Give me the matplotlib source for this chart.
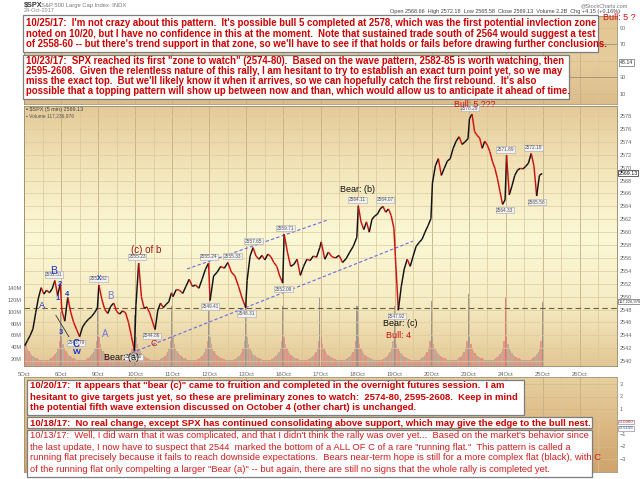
import numpy as np
import matplotlib.pyplot as plt
from matplotlib.collections import LineCollection
from matplotlib.colors import LinearSegmentedColormap
from matplotlib.patches import Rectangle

plt.rcParams['font.family'] = ['Liberation Sans', 'DejaVu Sans']

W, H = 640, 479

day_labels = ['5Oct', '6Oct', '9Oct', '10Oct', '11Oct', '12Oct', '13Oct', '16Oct',
              '17Oct', '18Oct', '19Oct', '20Oct', '23Oct', '24Oct', '25Oct', '26Oct']

s_5oct = [2542.4, 2543.2, 2544.0, 2545.0, 2547.5, 2549.8, 2551.4, 2550.4, 2551.0, 2550.6, 2551.2, 2552.5, 2550.2, 2552.0]
s_6oct = [2547.9, 2546.2, 2549.9, 2547.6, 2546.0, 2544.9, 2543.8, 2545.3, 2546.0, 2546.5, 2546.9, 2547.5, 2548.2]
s_9oct = [2551.8, 2549.6, 2548.0, 2547.4, 2548.5, 2549.0, 2547.7, 2547.3, 2547.8, 2547.5, 2546.0, 2543.8, 2541.6]
s_10oct = [2548.6, 2555.2, 2550.0, 2548.2, 2548.4, 2547.5, 2546.2, 2544.9, 2547.9, 2549.0, 2548.3, 2548.8, 2549.2, 2550.6]
s_11oct = [2550.0, 2551.1, 2551.0, 2550.5, 2551.6, 2552.7, 2551.6, 2551.8, 2551.3, 2552.7, 2554.2, 2555.2]
s_12oct = [2549.4, 2553.2, 2553.8, 2554.7, 2554.4, 2555.3, 2553.8, 2553.2, 2551.6, 2549.8, 2548.3]
s_13oct = [2552.5, 2556.3, 2557.6, 2556.3, 2555.8, 2556.4, 2555.7, 2556.6, 2556.2, 2555.3, 2554.7, 2553.2, 2552.1]
s_16oct = [2559.7, 2556.9, 2554.7, 2555.0, 2555.8, 2553.3, 2554.7, 2555.8, 2555.6, 2556.3, 2556.1, 2557.6]
s_17oct = [2558.5, 2555.8, 2556.9, 2556.2, 2556.0, 2556.4, 2555.3, 2555.9, 2556.9, 2557.8, 2559.2]
s_18oct = [2564.1, 2561.6, 2560.4, 2561.6, 2560.0, 2562.0, 2562.5, 2562.8, 2563.6, 2564.0, 2563.1, 2563.6, 2562.6, 2560.6]
s_19oct = [2556.2, 2547.9, 2551.6, 2554.3, 2555.8, 2554.7, 2556.3, 2557.8, 2558.4, 2558.9, 2560.0, 2561.0, 2562.1]
s_20oct = [2567.6, 2570.3, 2571.4, 2568.8, 2569.9, 2571.0, 2571.4, 2573.0, 2574.1, 2574.8, 2573.6, 2574.0, 2574.5]
s_23oct = [2577.6, 2578.3, 2575.6, 2575.0, 2574.6, 2573.0, 2574.1, 2573.5, 2572.5, 2571.0, 2569.9, 2568.3, 2566.3, 2564.3, 2565.0]
s_24oct = [2571.9, 2565.8, 2567.2, 2568.8, 2569.6, 2569.9, 2569.8, 2570.2, 2570.7, 2572.2, 2570.3, 2565.6, 2568.8, 2569.1]
sessions = [s_5oct, s_6oct, s_9oct, s_10oct, s_11oct, s_12oct, s_13oct, s_16oct,
            s_17oct, s_18oct, s_19oct, s_20oct, s_23oct, s_24oct]

# typical intraday volume per 15 min slot (millions per 5 min bar) and closing bar spikes
vol_profile = [58, 45, 38, 33, 30, 27, 25, 23, 22, 21, 20, 19, 18, 18, 18, 18, 19, 19, 20, 21, 23, 25, 28, 32, 38, 50]
vol_close = [100, 118, 95, 110, 105, 110, 110, 125, 110, 110, 118, 130, 126, 116]
vol_avg = 107

price_ticks = list(range(2540, 2579, 2))
vol_ticks = [20, 40, 60, 80, 100, 120, 140]

# pivot value tags: (day position, value, 1 = above / -1 = below)
pivots = [(0.81, 2552.51, 1), (1.40, 2543.79, -1), (2.00, 2551.82, 1), (2.95, 2541.60, -1),
          (3.05, 2555.23, 1), (3.45, 2544.86, -1), (4.99, 2555.24, 1), (5.02, 2549.41, -1),
          (5.62, 2555.33, 1), (6.00, 2548.31, -1), (6.20, 2557.65, 1), (7.00, 2552.09, -1),
          (7.05, 2559.71, 1), (9.00, 2564.11, 1), (9.75, 2564.07, 1), (10.06, 2547.92, -1),
          (12.03, 2578.29, 1), (13.00, 2571.89, 1), (12.97, 2564.33, -1), (13.75, 2572.18, 1),
          (13.84, 2565.58, -1)]

upper_channel = ([4.40, 8.20], [2554.3, 2561.9])
lower_channel = ([2.91, 10.49], [2541.3, 2558.6])
wave_line = ([0.86, 1.21], [2547.1, 2543.8])


def frect(x0, y0, x1, y1):
    return [x0 / W, 1 - y1 / H, (x1 - x0) / W, (y1 - y0) / H]


def grad(axx, colors):
    cmap = LinearSegmentedColormap.from_list('g', colors)
    axx.imshow(np.linspace(0, 1, 256).reshape(-1, 1), aspect='auto', cmap=cmap,
               extent=[0, 1, 0, 1], transform=axx.transAxes, zorder=0)


def style(axx):
    for sp in axx.spines.values():
        sp.set_color('#a39273')
        sp.set_linewidth(0.6)
    axx.tick_params(length=0, labelsize=4, labelcolor='#666666', pad=2)


def vgrid(axx):
    for d in range(16):
        axx.axvline(d, color='#c5ae84', lw=0.6, zorder=1)
        axx.axvline(d + 0.5, color='#d9c69c', lw=0.5, zorder=1)


fig = plt.figure(figsize=(6.4, 4.79), dpi=100)

# ---- top indicator panel
ax_r = fig.add_axes(frect(24, 16, 617, 104))
grad(ax_r, ['#e2c592', '#e6cd9d', '#dcbd8a'])
vgrid(ax_r)
for lv in [10, 30, 50, 70, 90]:
    ax_r.axhline(lv, color='#d2bb8e', lw=0.5, zorder=1)
ax_r.axhline(30, color='#a6977c', lw=0.7, zorder=1)
ax_r.axhline(70, color='#a6977c', lw=0.7, zorder=1)
ax_r.set_xlim(0, 16)
ax_r.set_ylim(-2.4, 104.2)
ax_r.yaxis.tick_right()
ax_r.set_yticks([90, 70, 30, 10])
ax_r.set_xticks([])
style(ax_r)
ax_r.annotate('48.14', xy=(1.0, 48.1), xycoords=('axes fraction', 'data'), xytext=(2, 0),
              textcoords='offset points', ha='left', va='center', fontsize=3.8, color='#333',
              bbox=dict(boxstyle='square,pad=0.15', fc='white', ec='#444', lw=0.4), annotation_clip=False)

# ---- price + volume panel
ax_v = fig.add_axes(frect(24, 106, 617, 366))
grad(ax_v, ['#e5ca98', '#f3e6bb', '#fbf8d6', '#f6edc4', '#e3c794'])
vgrid(ax_v)

for i, s in enumerate(sessions):
    n = len(s)
    for b, v in enumerate(vol_profile):
        t = (b + 0.5) / len(vol_profile)
        k = min(max(int((t - 0.02) / 0.96 * (n - 1)), 0), n - 2)
        c = '#e07272' if (s[k + 1] < s[k]) != (b % 2 == 1) else '#a29898'
        ax_v.bar(i + t * 0.97, v, width=0.97 / len(vol_profile), bottom=0,
                 color=c, alpha=0.6, lw=0, zorder=2)
    cc = '#e06a6a' if i == 12 else '#8c8c8c'
    ax_v.bar(i + 0.985, vol_close[i], width=0.028, color=cc, alpha=0.85, lw=0, zorder=2)
ax_v.axhline(vol_avg, color='#6e5f48', ls=(0, (5, 3)), lw=0.8, zorder=3)
ax_v.set_xlim(0, 16)
ax_v.set_ylim(8, 450)
ax_v.set_yticks(vol_ticks)
ax_v.set_yticklabels([f'{v}M' for v in vol_ticks])
ax_v.set_xticks(range(16))
ax_v.set_xticklabels(day_labels)
style(ax_v)
ax_v.tick_params(axis='x', labelsize=4.2, pad=4)
ax_v.tick_params(axis='y', pad=1.5)
ax_v.annotate('117,226,976', xy=(1.0, 117.2), xycoords=('axes fraction', 'data'), xytext=(1, 0),
              textcoords='offset points', ha='left', va='center', fontsize=2.9, color='#333',
              bbox=dict(boxstyle='square,pad=0.1', fc='white', ec='#444', lw=0.4), annotation_clip=False)

ax = ax_v.twinx()
for p in price_ticks:
    ax.axhline(p, color='#dccb9f', lw=0.5, zorder=1)

xs, ys = [], []
for i, s in enumerate(sessions):
    n = len(s)
    for k, v in enumerate(s):
        xs.append(i + 0.02 + 0.96 * k / (n - 1))
        ys.append(v)
pts = np.column_stack([xs, ys])
segs = np.stack([pts[:-1], pts[1:]], axis=1)
cols = ['#111111' if b >= a else '#d01010' for a, b in zip(ys[:-1], ys[1:])]
ax.add_collection(LineCollection(segs, colors=cols, linewidths=1.05, zorder=5))

ax.plot(*upper_channel, color='#6a6aee', lw=0.8, ls=(0, (3, 2)), zorder=4)
ax.plot(*lower_channel, color='#6a6aee', lw=0.8, ls=(0, (3, 2)), zorder=4)
ax.plot(*wave_line, color='#333333', lw=0.6, zorder=4)

for d, v, pos in pivots:
    ax.annotate(f'{v:.2f}', xy=(d, v), xytext=(0, 2.5 * pos), textcoords='offset points',
                ha='center', va='bottom' if pos > 0 else 'top', fontsize=3.4, color='#555',
                bbox=dict(boxstyle='square,pad=0.12', fc='#f1f1f1', ec='#a8a8a8', lw=0.4), zorder=6)

ax.set_xlim(0, 16)
ax.set_ylim(2539.25, 2579.56)
ax.set_yticks(price_ticks)
style(ax)
ax.annotate('2569.13', xy=(1.0, 2569.13), xycoords=('axes fraction', 'data'), xytext=(1, 0),
            textcoords='offset points', ha='left', va='center', fontsize=3.8, color='#111',
            bbox=dict(boxstyle='square,pad=0.12', fc='white', ec='#222', lw=0.5), annotation_clip=False)

# ---- lower indicator panel
ax_m = fig.add_axes(frect(24, 377, 617, 472))
grad(ax_m, ['#e7cf9f', '#ddb984', '#cfa26b'])
vgrid(ax_m)
for lv in [-3, -2, -1, 0, 1, 2, 3]:
    ax_m.axhline(lv, color='#d4b98a', lw=0.5, zorder=1)
ax_m.set_xlim(0, 16)
ax_m.set_ylim(-4.04, 3.56)
ax_m.yaxis.tick_right()
ax_m.set_yticks([3, 2, 1, -1, -2, -3])
ax_m.set_xticks([])
style(ax_m)
ax_m.annotate('-0.0360', xy=(1.0, -0.04), xycoords=('axes fraction', 'data'), xytext=(1, 0),
              textcoords='offset points', ha='left', va='center', fontsize=3.2, color='#b02020',
              bbox=dict(boxstyle='square,pad=0.1', fc='white', ec='#777', lw=0.4), annotation_clip=False)
ax_m.annotate('-0.5155', xy=(1.0, -0.55), xycoords=('axes fraction', 'data'), xytext=(1, 0),
              textcoords='offset points', ha='left', va='center', fontsize=3.2, color='#2040a0',
              bbox=dict(boxstyle='square,pad=0.1', fc='white', ec='#777', lw=0.4), annotation_clip=False)


def ftext(px, py, s, **kw):
    kw.setdefault('ha', 'center')
    kw.setdefault('va', 'center')
    return fig.text(px / W, 1 - py / H, s, **kw)


# header
ftext(24, 5, '$SPX', ha='left', fontsize=5.2, fontweight='bold', color='#333')
ftext(41, 5, 'S&P 500 Large Cap Index  INDX', ha='left', fontsize=4.2, color='#777')
ftext(24, 11, '24-Oct-2017', ha='left', fontsize=4.0, color='#888')
ftext(628, 6, '@StockCharts.com', ha='right', fontsize=4.0, color='#777')
ftext(620, 12, 'Open 2568.66  High 2572.18  Low 2565.58  Close 2569.13  Volume 2.2B  Chg +4.15 (+0.16%)',
      ha='right', fontsize=4.0, color='#444')
ftext(26, 110, '\u25aa $SPX (5 min) 2569.13', ha='left', fontsize=4.0, color='#444')
ftext(26, 116, '\u25aa Volume 117,236,976', ha='left', fontsize=3.5, color='#555')

# wave labels
blue = '#1c35d6'
lblue = '#7474e2'
ftext(42, 306, 'A', fontsize=6.5, color=blue)
ftext(54, 271, 'B', fontsize=7.5, color=blue)
ftext(58, 299, '1', fontsize=5.5, color=blue, fontweight='bold')
ftext(60, 284, '2', fontsize=5.5, color=blue, fontweight='bold')
ftext(61, 333, '3', fontsize=5.5, color=blue, fontweight='bold')
ftext(67, 295, '4', fontsize=5.5, color=blue, fontweight='bold')
ftext(76, 344, 'C', fontsize=7, color=blue, fontweight='bold')
ftext(77, 352, 'W', fontsize=6, color=blue, fontweight='bold')
ftext(99, 278, 'x', fontsize=6.5, color=blue)
ftext(110, 296, 'B', fontsize=7, color=lblue)
ftext(105, 334, 'A', fontsize=7, color=lblue)
ftext(146, 250, '(c) of b', fontsize=7, color='#a51212')
ftext(122, 358, 'Bear: (a)', fontsize=6.5, color='#111')
ftext(154, 343, 'C', fontsize=6.5, color='#cc1111')
ftext(358, 189, 'Bear: (b)', fontsize=6.5, color='#111')
ftext(400, 324, 'Bear: (c)', fontsize=6.5, color='#111')
ftext(399, 336, 'Bull: 4', fontsize=6.5, color='#d01010')
ftext(475, 104.5, 'Bull: 5 ???', fontsize=6.3, color='#d01010')
ftext(603, 17, 'Bull: 5 ?', ha='left', fontsize=6.5, color='#d01010')

# comment boxes
renderer = fig.canvas.get_renderer()


def note(x0, y0, x1, y1, lines, ys, weight, fit_w, color='#d00000'):
    fig.add_artist(Rectangle((x0 / W, 1 - y1 / H), (x1 - x0) / W, (y1 - y0) / H,
                             transform=fig.transFigure, fc='white', ec='#7d7d7d', lw=0.9, zorder=10))
    ts = [ftext(x0 + 3, y, s, ha='left', fontsize=10, fontweight=weight, color=color, zorder=11)
          for s, y in zip(lines, ys)]
    w0 = ts[0].get_window_extent(renderer).width
    for t in ts:
        t.set_fontsize(10 * fit_w / w0)


note(23, 15, 598, 52,
     ["10/25/17:  I'm not crazy about this pattern.  It's possible bull 5 completed at 2578, which was the first potential invlection zone",
      "noted on 10/20, but I have no confidence in this at the moment.  Note that sustained trade south of 2564 would suggest a test",
      "of 2558-60 -- but there's trend support in that zone, so we'll have to see if that holds or fails before drawing further conclusions."],
     [23, 34, 44], 'bold', 569)
note(23, 55, 569, 99,
     ['10/23/17:  SPX reached its first "zone to watch" (2574-80).  Based on the wave pattern, 2582-85 is worth watching, then',
      '2595-2608.  Given the relentless nature of this rally, I am hesitant to try to establish an exact turn point yet, so we may',
      "miss the exact top.  But we'll likely know it when it arrives, so we can hopefully catch the first rebound.  It's also",
      'possible that a topping pattern will show up between now and than, which would allow us to anticipate it ahead of time.'],
     [61, 71, 81, 91], 'bold', 540)
note(27, 380, 524, 415,
     ['10/20/17:  It appears that "bear (c)" came to fruition and completed in the overnight futures session.  I am',
      'hesitant to give targets just yet, so these are preliminary zones to watch:  2574-80, 2595-2608.  Keep in mind',
      'the potential fifth wave extension discussed on October 4 (other chart) is unchanged.'],
     [386, 397, 408], 'bold', 471)
note(27, 417, 592, 428,
     ['10/18/17:  No real change, except SPX has continued consolidating above support, which may give the edge to the bull nest.'],
     [423], 'bold', 560)
note(27, 430, 592, 477,
     ["10/13/17:  Well, I did warn that it was complicated, and that I didn't think the rally was over yet...  Based on the market's behavior since",
      'the last update, I now have to suspect that 2544  marked the bottom of a ALL OF C of a rare "running flat."  This pattern is called a',
      'running flat precisely because it fails to reach downside expectations.  Bears near-term hope is still for a more complex flat (black), with C',
      'of the running flat only compelting a larger "Bear (a)" -- but again, there are still no signs that the whole rally is completed yet.'],
     [436, 447, 458, 469], 'normal', 557, color='#d41c1c')

fig.savefig('out.png', dpi=100)
